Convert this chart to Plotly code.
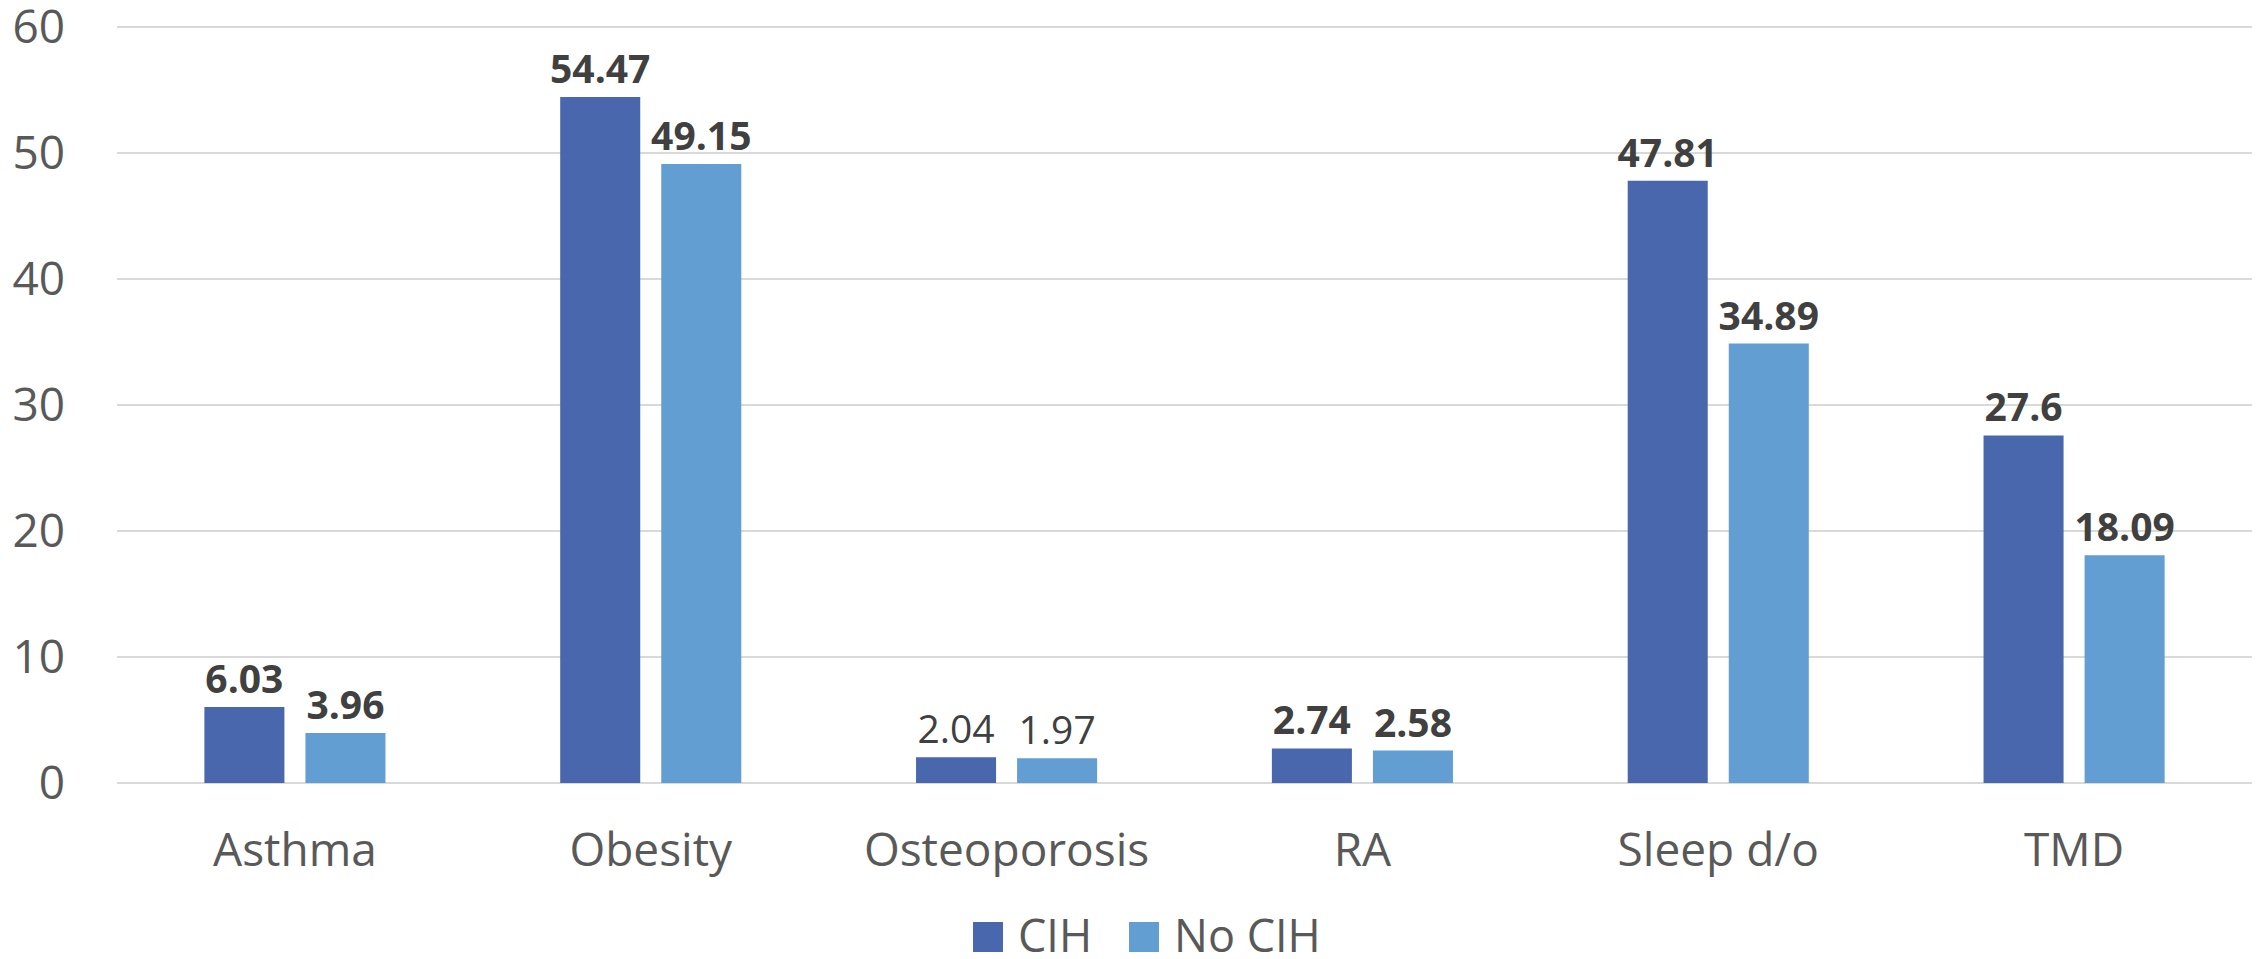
import plotly.graph_objects as go

# data
conditions = ["Asthma", "Obesity", "Osteoporosis", "RA", "Sleep d/o", "TMD"]
cih = [6.03, 54.47, 2.04, 2.74, 47.81, 27.6]
no_cih = [3.96, 49.15, 1.97, 2.58, 34.89, 18.09]
series_names = ["CIH", "No CIH"]
plain_labels = ["Osteoporosis"]  # labels here are not bold in the source
y_ticks = [0, 10, 20, 30, 40, 50, 60]

DARK = "#4967AD"
LIGHT = "#629ED2"
FONT = "Open Sans"

# page body adds an 8px offset, so the figure is 8px smaller
W, H = 2256, 951
M = dict(l=109, r=12, t=13, b=176)
PW = W - M["l"] - M["r"]
PH = H - M["t"] - M["b"]


def px_x(x):
    return (x - M["l"]) / PW


def px_y(y):
    return (H - M["b"] - y) / PH


def labels(values):
    out = []
    for cat, v in zip(conditions, values):
        s = str(v)
        out.append(s if cat in plain_labels else "<b>" + s + "</b>")
    return out


fig = go.Figure()
for name, vals, col in zip(series_names, [cih, no_cih], [DARK, LIGHT]):
    fig.add_trace(go.Bar(
        x=conditions, y=vals, name=name, showlegend=False,
        marker=dict(color=col, line=dict(width=0)),
        text=labels(vals), textposition="outside", cliponaxis=False,
        constraintext="none",
        textfont=dict(family=FONT, size=39, color="#404040"),
    ))

# legend drawn by hand so the swatches can be as big as in the source
legend_x = [965, 1121]
for name, col, lx in zip(series_names, [DARK, LIGHT], legend_x):
    fig.add_shape(type="rect", xref="paper", yref="paper",
                  x0=px_x(lx), x1=px_x(lx + 30), y0=px_y(944), y1=px_y(914),
                  fillcolor=col, line=dict(width=0))
    fig.add_annotation(text=name, xref="paper", yref="paper",
                       x=px_x(lx + 43), y=px_y(926), xanchor="left",
                       yanchor="middle", showarrow=False,
                       font=dict(family=FONT, size=45, color="#595959"))

fig.update_layout(
    width=W, height=H, margin=M,
    paper_bgcolor="white", plot_bgcolor="white",
    barmode="group", bargap=0.432, bargroupgap=0.208,
    font=dict(family=FONT, color="#595959"),
    showlegend=False,
)
fig.update_yaxes(
    range=[0, 60.5], tickvals=y_ticks, showgrid=True, gridcolor="#D9D9D9",
    gridwidth=2, zeroline=True, zerolinecolor="#D9D9D9", zerolinewidth=2,
    showline=False, ticks="", ticklabelstandoff=51, ticklabeloverflow="allow",
    automargin=False,
    tickfont=dict(family=FONT, size=46, color="#595959"),
)
fig.update_xaxes(
    showline=False, ticks="", ticklabelstandoff=36, automargin=False,
    tickfont=dict(family=FONT, size=46, color="#595959"),
)

fig.write_html("out.html")
